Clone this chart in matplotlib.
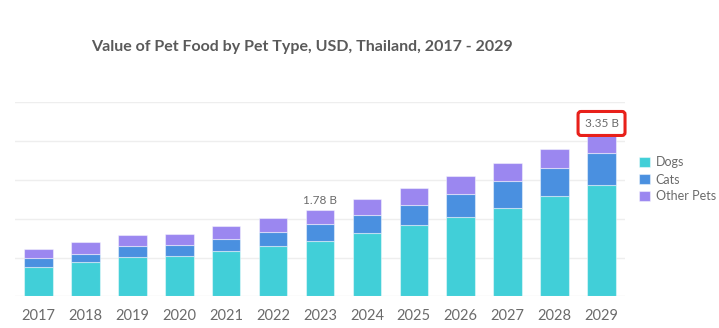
import numpy as np
import matplotlib
matplotlib.use('Agg')
import matplotlib.pyplot as plt

years = ['2017', '2018', '2019', '2020', '2021', '2022', '2023',
         '2024', '2025', '2026', '2027', '2028', '2029']
dogs = [0.60, 0.71, 0.81, 0.83, 0.93, 1.04, 1.145, 1.31, 1.47, 1.64, 1.83, 2.06, 2.30]
cats = [0.18, 0.17, 0.22, 0.23, 0.25, 0.28, 0.345, 0.37, 0.41, 0.47, 0.55, 0.59, 0.66]
other = [0.20, 0.24, 0.23, 0.23, 0.26, 0.29, 0.29, 0.33, 0.35, 0.37, 0.36, 0.39, 0.39]
series_names = ['Dogs', 'Cats', 'Other Pets']
colors = ['#41CFD8', '#4A90E0', '#9B87F0']

FONT = ['Lato', 'DejaVu Sans']
grey = '#6b6b6b'

fig = plt.figure(figsize=(7.19, 3.28), dpi=100)
ax = fig.add_axes([15 / 719, 31.7 / 328, 610 / 719, 194 / 328])

x = np.arange(len(years))
bottom = np.zeros(len(years))
for vals, name, col in zip([dogs, cats, other], series_names, colors):
    ax.bar(x, vals, width=0.61, bottom=bottom, color=col, label=name,
           edgecolor=(1, 1, 1, 0.45), linewidth=0.8, zorder=3)
    bottom = bottom + np.array(vals)

totals = bottom
ax.set_xlim(-0.5, 12.5)
ax.set_ylim(0, 4.0)
ax.set_yticks([0, 0.8, 1.6, 2.4, 3.2, 4.0])
ax.yaxis.grid(True, color='#eeeeee', linewidth=1, zorder=0)
ax.tick_params(axis='y', left=False, labelleft=False)
ax.tick_params(axis='x', bottom=False, pad=6)
ax.set_xticks(x)
ax.set_xticklabels(years, fontsize=10.5, color=grey, family=FONT)
for s in ax.spines.values():
    s.set_visible(False)

# value labels
i23 = years.index('2023')
ax.text(i23, totals[i23] + 0.09, '%.2f B' % totals[i23], ha='center', va='bottom',
        fontsize=8.5, color=grey, family=FONT)
i29 = years.index('2029')
t = ax.text(i29, totals[i29] + 0.10, '%.2f B' % totals[i29], ha='center', va='bottom',
            fontsize=8.5, color=grey, family=FONT, zorder=5)
t.set_bbox(dict(boxstyle='round,pad=0.55,rounding_size=0.25', facecolor='white',
                edgecolor='#e8201a', linewidth=2.2))

leg = ax.legend(loc='upper left', bbox_to_anchor=(619 / 610, (296.3 - 151.5) / 194),
                frameon=False, handlelength=0.85, handleheight=0.85, handletextpad=0.5,
                labelspacing=0.4, borderaxespad=0,
                prop={'family': FONT, 'size': 9})
for txt in leg.get_texts():
    txt.set_color(grey)

fig.text(302 / 719, 1 - 46.7 / 328, 'Value of Pet Food by Pet Type, USD, Thailand, 2017 - 2029',
         ha='center', va='center', fontsize=11.5, fontweight='bold', color='#5a5a5a',
         family=FONT)

fig.savefig('out.png', dpi=100)
